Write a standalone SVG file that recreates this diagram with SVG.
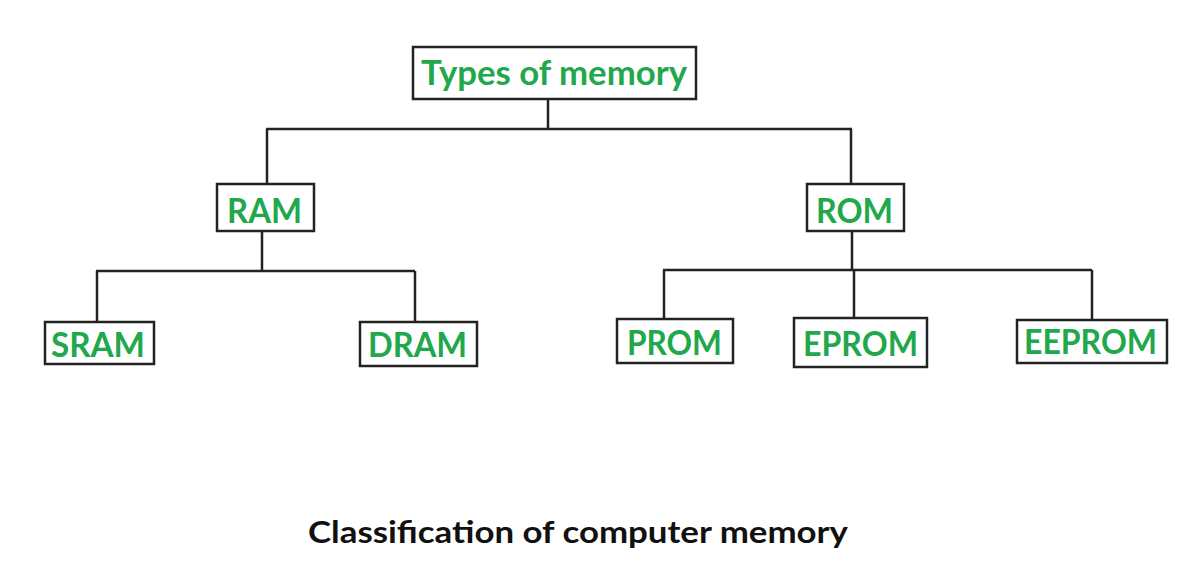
<svg xmlns="http://www.w3.org/2000/svg" width="1200" height="564" viewBox="0 0 1200 564">
<style>
.box{fill:#ffffff;stroke:#222222;stroke-width:2.5}
.lbl{font-family:Lato,"Open Sans","Liberation Sans",sans-serif;font-weight:bold;font-size:34px;fill:#22a84c}
.cap{font-family:Lato,"Open Sans","Liberation Sans",sans-serif;font-weight:bold;font-size:31px;fill:#111111}
.con{fill:none;stroke:#222222;stroke-width:2.5}
</style>
<rect width="1200" height="564" fill="#ffffff"/>
<g id="connectors">
<path class="con" d="M548,99 V129 M266,129 H852 M267,129 V184 M851,129 V184"/>
<path class="con" d="M262,231 V271 M96,271 H415 M97,271 V322 M415,271 V322"/>
<path class="con" d="M852,231 V270 M663,270 H1092 M664,270 V319 M854,270 V318 M1092,270 V320"/>
</g>
<g id="types">
<rect class="box" x="413" y="47" width="283" height="52"/>
<text class="lbl" x="421" y="85" textLength="266" lengthAdjust="spacingAndGlyphs">Types of memory</text>
</g>
<g id="ram">
<rect class="box" x="217" y="184" width="97" height="47"/>
<text class="lbl" x="227" y="223" textLength="75" lengthAdjust="spacingAndGlyphs">RAM</text>
</g>
<g id="rom">
<rect class="box" x="807" y="184" width="97" height="47"/>
<text class="lbl" x="816" y="223" textLength="77" lengthAdjust="spacingAndGlyphs">ROM</text>
</g>
<g id="sram">
<rect class="box" x="45" y="322" width="109" height="42"/>
<text class="lbl" x="51" y="357" textLength="94" lengthAdjust="spacingAndGlyphs">SRAM</text>
</g>
<g id="dram">
<rect class="box" x="360" y="322" width="117" height="44"/>
<text class="lbl" x="368" y="357" textLength="99" lengthAdjust="spacingAndGlyphs">DRAM</text>
</g>
<g id="prom">
<rect class="box" x="617" y="319" width="116" height="44"/>
<text class="lbl" x="627" y="355" textLength="95" lengthAdjust="spacingAndGlyphs">PROM</text>
</g>
<g id="eprom">
<rect class="box" x="794" y="318" width="133" height="49"/>
<text class="lbl" x="803" y="356" textLength="115" lengthAdjust="spacingAndGlyphs">EPROM</text>
</g>
<g id="eeprom">
<rect class="box" x="1017" y="320" width="150" height="43"/>
<text class="lbl" x="1024" y="354" textLength="133" lengthAdjust="spacingAndGlyphs">EEPROM</text>
</g>
<text class="cap" x="308" y="543" textLength="540" lengthAdjust="spacingAndGlyphs">Classification of computer memory</text>
</svg>
